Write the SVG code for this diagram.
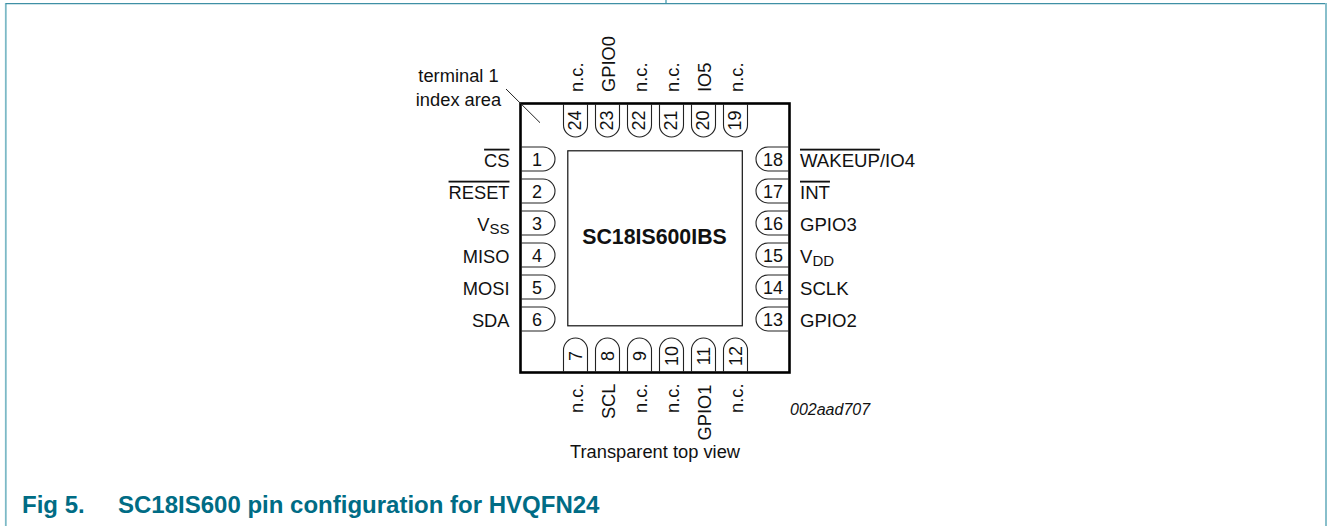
<svg xmlns="http://www.w3.org/2000/svg" width="1327" height="526" viewBox="0 0 1327 526">
<style>
text{font-family:"Liberation Sans",Arial,sans-serif;font-size:18.3px;fill:#111}
.n{font-size:18px;text-anchor:middle}
.l{text-anchor:end}
.t{text-anchor:middle}
.o{text-decoration:overline}
.s{font-size:15px}
.r{font-size:18.6px}
.p{fill:none;stroke:#222;stroke-width:1.1}
.b{fill:none;stroke:#7cb9c6;stroke-width:1.8}
.c{font-size:24px;font-weight:bold;fill:#006c85}
</style>
<rect width="1327" height="526" fill="#fff"/>
<g id="frame"><path class="b" d="M5.8 526V3M1326 526V3M666 0V3"/><path d="M5.8 3.6H1325" fill="none" stroke="#3f90a5" stroke-width="1.4"/></g>
<g id="package">
<rect x="520.5" y="103.5" width="269" height="269" fill="none" stroke="#000" stroke-width="2.6"/>
<rect x="567.8" y="150.8" width="174.5" height="175" fill="none" stroke="#111" stroke-width="1.2"/>
<text x="654.5" y="244" class="t" style="font-size:21.3px;font-weight:bold">SC18IS600IBS</text>
</g>
<g id="connectors"><path d="M506 89L540 122.7" fill="none" stroke="#222" stroke-width="1"/></g>
<g id="index"><text x="458.5" y="82.3" class="t">terminal 1</text><text x="458.5" y="105.7" class="t">index area</text></g>
<g id="pin1"><path class="p" d="M521 147H543a12 12 0 0 1 0 24H521"/><text x="537" y="165.5" class="n">1</text><text x="509.5" y="166.7" class="l"><tspan class="o">CS</tspan></text></g>
<g id="pin2"><path class="p" d="M521 179H543a12 12 0 0 1 0 24H521"/><text x="537" y="197.5" class="n">2</text><text x="509.5" y="198.7" class="l"><tspan class="o">RESET</tspan></text></g>
<g id="pin3"><path class="p" d="M521 211H543a12 12 0 0 1 0 24H521"/><text x="537" y="229.5" class="n">3</text><text x="509.5" y="230.7" class="l">V<tspan class="s" dy="3">SS</tspan></text></g>
<g id="pin4"><path class="p" d="M521 243H543a12 12 0 0 1 0 24H521"/><text x="537" y="261.5" class="n">4</text><text x="509.5" y="262.7" class="l">MISO</text></g>
<g id="pin5"><path class="p" d="M521 275H543a12 12 0 0 1 0 24H521"/><text x="537" y="293.5" class="n">5</text><text x="509.5" y="294.7" class="l">MOSI</text></g>
<g id="pin6"><path class="p" d="M521 307H543a12 12 0 0 1 0 24H521"/><text x="537" y="325.5" class="n">6</text><text x="509.5" y="326.7" class="l">SDA</text></g>
<g id="pin7"><path class="p" d="M563.5 372V350a12 12 0 0 1 24 0V372"/><text transform="translate(581.8 356) rotate(-90)" class="n">7</text><text transform="translate(582.5 383.5) rotate(-90)" class="l">n.c.</text></g>
<g id="pin8"><path class="p" d="M595.5 372V350a12 12 0 0 1 24 0V372"/><text transform="translate(613.8 356) rotate(-90)" class="n">8</text><text transform="translate(614.5 383.5) rotate(-90)" class="l">SCL</text></g>
<g id="pin9"><path class="p" d="M627.5 372V350a12 12 0 0 1 24 0V372"/><text transform="translate(645.8 356) rotate(-90)" class="n">9</text><text transform="translate(646.5 383.5) rotate(-90)" class="l">n.c.</text></g>
<g id="pin10"><path class="p" d="M659.5 372V350a12 12 0 0 1 24 0V372"/><text transform="translate(677.8 356) rotate(-90)" class="n">10</text><text transform="translate(678.5 383.5) rotate(-90)" class="l">n.c.</text></g>
<g id="pin11"><path class="p" d="M691.5 372V350a12 12 0 0 1 24 0V372"/><text transform="translate(709.8 356) rotate(-90)" class="n">11</text><text transform="translate(710.5 384.5) rotate(-90)" class="l">GPIO1</text></g>
<g id="pin12"><path class="p" d="M723.5 372V350a12 12 0 0 1 24 0V372"/><text transform="translate(741.8 356) rotate(-90)" class="n">12</text><text transform="translate(742.5 383.5) rotate(-90)" class="l">n.c.</text></g>
<g id="pin13"><path class="p" d="M789 307H768a12 12 0 0 0 0 24H789"/><text x="773" y="325.5" class="n">13</text><text x="800" y="326.7" class="r">GPIO2</text></g>
<g id="pin14"><path class="p" d="M789 275H768a12 12 0 0 0 0 24H789"/><text x="773" y="293.5" class="n">14</text><text x="800" y="294.7" class="r">SCLK</text></g>
<g id="pin15"><path class="p" d="M789 243H768a12 12 0 0 0 0 24H789"/><text x="773" y="261.5" class="n">15</text><text x="800" y="262.7" class="r">V<tspan class="s" dy="3">DD</tspan></text></g>
<g id="pin16"><path class="p" d="M789 211H768a12 12 0 0 0 0 24H789"/><text x="773" y="229.5" class="n">16</text><text x="800" y="230.7" class="r">GPIO3</text></g>
<g id="pin17"><path class="p" d="M789 179H768a12 12 0 0 0 0 24H789"/><text x="773" y="197.5" class="n">17</text><text x="800" y="198.7" class="r"><tspan class="o">INT</tspan></text></g>
<g id="pin18"><path class="p" d="M789 147H768a12 12 0 0 0 0 24H789"/><text x="773" y="165.5" class="n">18</text><text x="800" y="166.7" class="r"><tspan class="o">WAKEUP</tspan>/IO4</text></g>
<g id="pin19"><path class="p" d="M723.5 104V125a12 12 0 0 0 24 0V104"/><text transform="translate(741 120.5) rotate(-90)" class="n">19</text><text transform="translate(742.5 92) rotate(-90)">n.c.</text></g>
<g id="pin20"><path class="p" d="M691.5 104V125a12 12 0 0 0 24 0V104"/><text transform="translate(709 120.5) rotate(-90)" class="n">20</text><text transform="translate(710.5 92) rotate(-90)">IO5</text></g>
<g id="pin21"><path class="p" d="M659.5 104V125a12 12 0 0 0 24 0V104"/><text transform="translate(677 120.5) rotate(-90)" class="n">21</text><text transform="translate(678.5 92) rotate(-90)">n.c.</text></g>
<g id="pin22"><path class="p" d="M627.5 104V125a12 12 0 0 0 24 0V104"/><text transform="translate(645 120.5) rotate(-90)" class="n">22</text><text transform="translate(646.5 92) rotate(-90)">n.c.</text></g>
<g id="pin23"><path class="p" d="M595.5 104V125a12 12 0 0 0 24 0V104"/><text transform="translate(613 120.5) rotate(-90)" class="n">23</text><text transform="translate(614.5 92) rotate(-90)">GPIO0</text></g>
<g id="pin24"><path class="p" d="M563.5 104V125a12 12 0 0 0 24 0V104"/><text transform="translate(581 120.5) rotate(-90)" class="n">24</text><text transform="translate(582.5 92) rotate(-90)">n.c.</text></g>
<g id="notes">
<text x="790" y="415" style="font-size:16px;font-style:italic">002aad707</text>
<text x="655" y="458" class="t">Transparent top view</text>
</g>
<g id="caption">
<text x="22" y="512.5" class="c">Fig 5.</text>
<text x="118" y="512.5" class="c">SC18IS600 pin configuration for HVQFN24</text>
</g>
</svg>
